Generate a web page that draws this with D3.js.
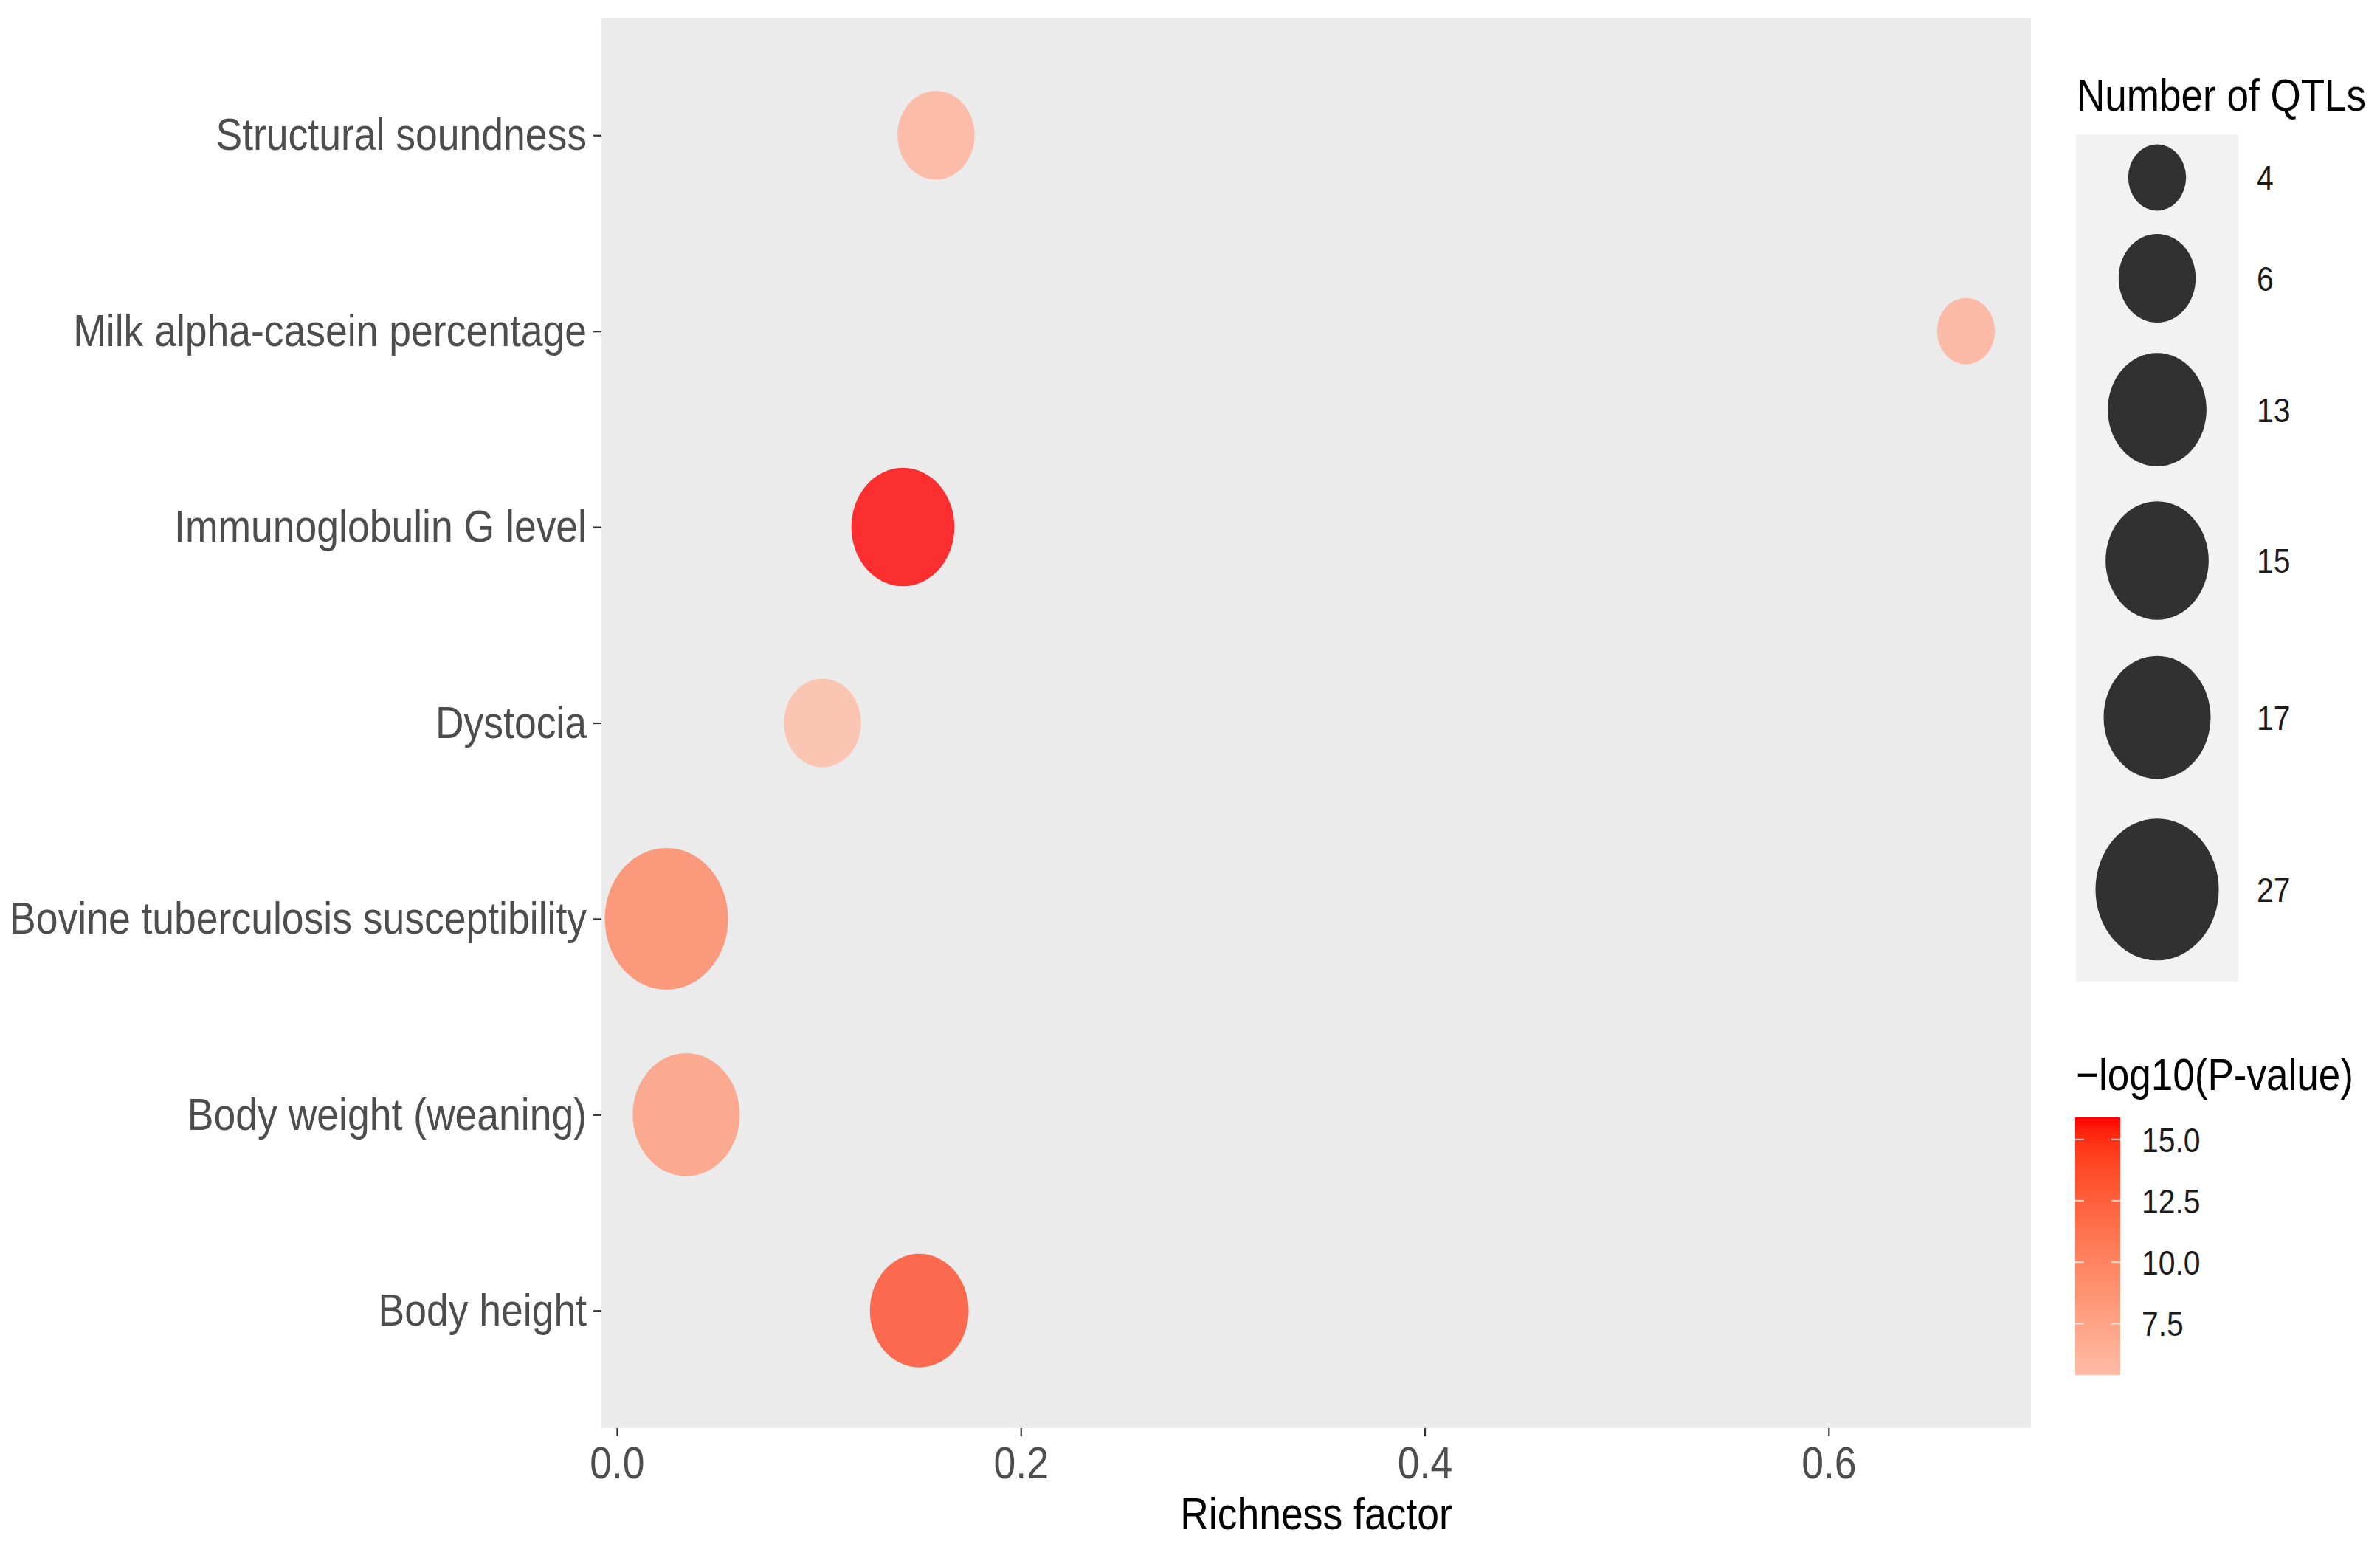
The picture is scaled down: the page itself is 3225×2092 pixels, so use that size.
<!DOCTYPE html>
<html>
<head>
<meta charset="utf-8">
<script src="https://cdn.jsdelivr.net/npm/d3@7"></script>
<style>
  body { margin: 0; background: #fff; }
  svg { display: block; font-family: "Liberation Sans", Arial, sans-serif; }
</style>
</head>
<body>
<script>
// QTL enrichment values, bottom category first (ggplot order)
const categories = [
  "Body height",
  "Body weight (weaning)",
  "Bovine tuberculosis susceptibility",
  "Dystocia",
  "Immunoglobulin G level",
  "Milk alpha-casein percentage",
  "Structural soundness",
];
const richness = [0.1497, 0.0343, 0.0245, 0.1018, 0.1416, 0.668, 0.158];
const qtlCount = [13, 17, 27, 6, 15, 4, 6];
const negLogP = [13.9, 8.4, 9.9, 5.4, 15.9, 6.5, 6.3];

const xTicks = [0, 0.2, 0.4, 0.6];
const sizeBreaks = [4, 6, 13, 15, 17, 27];
const colorBreaks = [7.5, 10, 12.5, 15];

const rows = categories.map((c, i) => ({
  cat: c,
  rf: richness[i],
  n: qtlCount[i],
  p: negLogP[i],
}));

const W = 3225,
  H = 2092;
// the original figure is squeezed horizontally, so draw in a wider space
const SX = 0.87;
const vx = (v) => v / SX;

const svg = d3.select("body").append("svg").attr("width", W).attr("height", H);
svg.append("rect").attr("width", W).attr("height", H).attr("fill", "#fff");

const g = svg.append("g").attr("transform", `scale(${SX},1)`);

const panel = { left: vx(815), right: vx(2752), top: 24, bottom: 1935 };

const xExt = d3.extent(richness);
const xPad = (xExt[1] - xExt[0]) * 0.05;
const x = d3
  .scaleLinear()
  .domain([xExt[0] - xPad, xExt[1] + xPad])
  .range([panel.left, panel.right]);

const y = d3
  .scalePoint()
  .domain(categories)
  .range([panel.bottom, panel.top])
  .padding(0.6);

// size: area-like mapping as in ggplot scale_size
const qExt = d3.extent(qtlCount);
const diam = d3.scaleLinear().domain([0, 1]).range([90, 192]);
const sizeOf = (n) => diam(Math.sqrt((n - qExt[0]) / (qExt[1] - qExt[0])));

const pExt = d3.extent(negLogP);
const color = d3
  .scaleLinear()
  .domain(pExt)
  .range(["#FFBCA6", "#FF0000"])
  .interpolate(d3.interpolateLab);

// panel
g.append("rect")
  .attr("x", panel.left)
  .attr("y", panel.top)
  .attr("width", panel.right - panel.left)
  .attr("height", panel.bottom - panel.top)
  .attr("fill", "#EBEBEB");

// points
g.selectAll(".pt")
  .data(rows)
  .join("circle")
  .attr("class", "pt")
  .attr("cx", (d) => x(d.rf))
  .attr("cy", (d) => y(d.cat))
  .attr("r", (d) => sizeOf(d.n) / 2)
  .attr("fill", (d) => color(d.p))
  .attr("fill-opacity", 0.8);

// y axis
const yAxis = g
  .append("g")
  .attr("transform", `translate(${panel.left},0)`)
  .call(d3.axisLeft(y).tickSize(vx(11)).tickPadding(vx(9)));
yAxis.select(".domain").remove();
yAxis.selectAll("line").attr("stroke", "#333").attr("stroke-width", 2.2);
yAxis
  .selectAll("text")
  .attr("font-size", 61.5)
  .attr("font-family", "Liberation Sans, Arial, sans-serif")
  .attr("fill", "#4d4d4d");

// x axis
const xAxis = g
  .append("g")
  .attr("transform", `translate(0,${panel.bottom})`)
  .call(
    d3
      .axisBottom(x)
      .tickValues(xTicks)
      .tickFormat(d3.format(".1f"))
      .tickSize(11)
      .tickPadding(13)
  );
xAxis.select(".domain").remove();
xAxis.selectAll("line").attr("stroke", "#333").attr("stroke-width", 2.5);
xAxis
  .selectAll("text")
  .attr("font-size", 61.5)
  .attr("font-family", "Liberation Sans, Arial, sans-serif")
  .attr("fill", "#4d4d4d");

g.append("text")
  .attr("x", (panel.left + panel.right) / 2)
  .attr("y", 2072)
  .attr("text-anchor", "middle")
  .attr("font-size", 61.5)
  .attr("fill", "#000")
  .text("Richness factor");

// size legend
const legX = vx(2813);
const legW = vx(3033) - legX;
const legCx = vx(2923);
g.append("text")
  .attr("x", vx(2814))
  .attr("y", 150)
  .attr("font-size", 61)
  .attr("fill", "#000")
  .text("Number of QTLs");

const keyH = sizeBreaks.map((b) => sizeOf(b) * 1.3);
const keyTop = 182;
const keyY = [];
let acc = keyTop;
keyH.forEach((h) => {
  keyY.push(acc + h / 2);
  acc += h;
});

g.append("rect")
  .attr("x", legX)
  .attr("y", keyTop)
  .attr("width", legW)
  .attr("height", acc - keyTop)
  .attr("fill", "#F2F2F2");

g.selectAll(".key")
  .data(sizeBreaks)
  .join("circle")
  .attr("class", "key")
  .attr("cx", legCx)
  .attr("cy", (d, i) => keyY[i])
  .attr("r", (d) => sizeOf(d) / 2)
  .attr("fill", "#000")
  .attr("fill-opacity", 0.8);

g.selectAll(".keylab")
  .data(sizeBreaks)
  .join("text")
  .attr("class", "keylab")
  .attr("x", vx(3058))
  .attr("y", (d, i) => keyY[i])
  .attr("dy", "0.36em")
  .attr("font-size", 47)
  .attr("fill", "#1a1a1a")
  .text((d) => d);

// colour legend
g.append("text")
  .attr("x", vx(2813))
  .attr("y", 1477)
  .attr("font-size", 61)
  .attr("fill", "#000")
  .text("\u2212log10(P-value)");

const barX = vx(2812),
  barW = vx(2873) - barX;
const barY = d3.scaleLinear().domain(pExt).range([1863, 1514]);

const grad = svg
  .append("defs")
  .append("linearGradient")
  .attr("id", "pgrad")
  .attr("x1", 0)
  .attr("y1", 1)
  .attr("x2", 0)
  .attr("y2", 0);
grad
  .selectAll("stop")
  .data(d3.range(0, 1.0001, 0.05))
  .join("stop")
  .attr("offset", (t) => t)
  .attr("stop-color", (t) => color(pExt[0] + t * (pExt[1] - pExt[0])));

g.append("rect")
  .attr("x", barX)
  .attr("y", barY(pExt[1]))
  .attr("width", barW)
  .attr("height", barY(pExt[0]) - barY(pExt[1]))
  .attr("fill", "url(#pgrad)");

const tickLen = vx(12);
colorBreaks.forEach((b) => {
  [
    [barX, barX + tickLen],
    [barX + barW - tickLen, barX + barW],
  ].forEach(([a, c]) => {
    g.append("line")
      .attr("x1", a)
      .attr("x2", c)
      .attr("y1", barY(b))
      .attr("y2", barY(b))
      .attr("stroke", "#fff")
      .attr("stroke-opacity", 0.7)
      .attr("stroke-width", 2.2);
  });
});

g.selectAll(".barlab")
  .data(colorBreaks)
  .join("text")
  .attr("class", "barlab")
  .attr("x", vx(2902))
  .attr("y", (d) => barY(d))
  .attr("dy", "0.36em")
  .attr("font-size", 47)
  .attr("fill", "#1a1a1a")
  .text((d) => d3.format(".1f")(d));
</script>
</body>
</html>
